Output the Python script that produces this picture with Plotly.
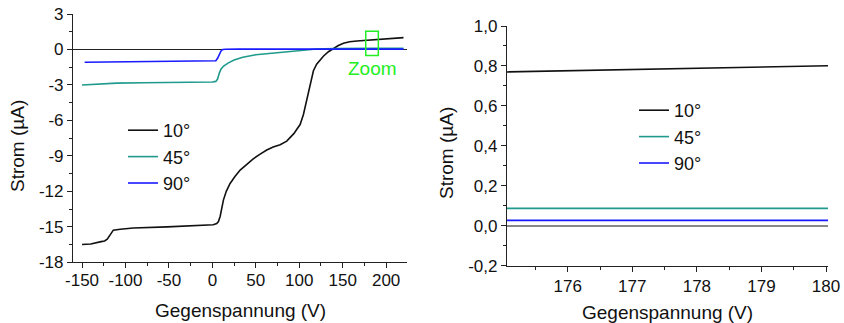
import plotly.graph_objects as go

# ---- data: left panel (full sweep) ----
v10 = [-150, -140, -128, -124, -121, -117, -114, -106, -91, -52, -14, 1, 5, 7, 9, 10.5, 12.7, 16, 20.4, 26, 32, 40, 47, 55, 62.6, 70, 78, 85.6, 90, 94, 97.2, 101, 104.8, 107.5, 110.5, 113.5, 116.3, 120, 124, 128, 133.6, 139.4, 145, 150.9, 158, 166.3, 176, 190, 205, 220]
i10 = [-16.5, -16.45, -16.25, -16.2, -16.05, -15.6, -15.28, -15.2, -15.1, -15.0, -14.9, -14.82, -14.72, -14.55, -14.1, -13.5, -12.74, -12.0, -11.33, -10.75, -10.2, -9.7, -9.25, -8.85, -8.5, -8.25, -8.05, -7.75, -7.45, -7.1, -6.75, -6.35, -5.5, -4.6, -3.5, -2.5, -1.8, -1.25, -0.9, -0.55, -0.19, 0.09, 0.33, 0.52, 0.65, 0.72, 0.78, 0.86, 0.94, 1.0]

v45 = [-150, -135, -125, -110, -80, -50, -20, 0, 4, 6, 8, 10, 13, 18, 25, 35, 50, 70, 90, 105, 120, 140, 180, 220]
i45 = [-3.0, -2.95, -2.9, -2.85, -2.82, -2.8, -2.77, -2.75, -2.7, -2.5, -2.0, -1.65, -1.4, -1.15, -0.9, -0.65, -0.45, -0.33, -0.2, -0.07, 0.04, 0.08, 0.09, 0.1]

v90 = [-147, -100, -50, 0, 4, 6, 8, 10, 12, 15, 30, 100, 220]
i90 = [-1.08, -1.05, -1.02, -0.98, -0.95, -0.75, -0.4, -0.12, 0.0, 0.02, 0.03, 0.03, 0.03]

# ---- data: right panel (zoom) ----
zv = [175.06, 176, 177, 178, 179, 180.03]
z10 = [0.770, 0.776, 0.782, 0.789, 0.795, 0.801]
z45 = [0.087, 0.087, 0.087, 0.087, 0.087, 0.087]
z90 = [0.027, 0.027, 0.027, 0.027, 0.027, 0.027]

labels = ["10°", "45°", "90°"]
colors = ["#111111", "#1f9a8c", "#1a1aff"]

# zoom box (data coords of left panel)
box_x = [176.5, 191.0]
box_y = [-0.5, 1.55]

# ticks
lx_vals = [-150, -100, -50, 0, 50, 100, 150, 200]
lx_text = ["-150", "-100", "-50", "0", "50", "100", "150", "200"]
ly_vals = [3, 0, -3, -6, -9, -12, -15, -18]
ly_text = ["3", "0", "-3", "-6", "-9", "-12", "-15", "-18"]
rx_vals = [176, 177, 178, 179, 180]
rx_text = ["176", "177", "178", "179", "180"]
ry_vals = [1.0, 0.8, 0.6, 0.4, 0.2, 0.0, -0.2]
ry_text = ["1,0", "0,8", "0,6", "0,4", "0,2", "0,0", "-0,2"]

FONT = "Liberation Sans, Arial, sans-serif"
W, H = 844, 323

fig = go.Figure()
for v, i, lab, c in zip([v10, v45, v90], [i10, i45, i90], labels, colors):
    fig.add_trace(go.Scatter(x=v, y=i, mode="lines", name=lab, line=dict(color=c, width=1.6),
                             xaxis="x", yaxis="y", legend="legend"))
for z, lab, c in zip([z10, z45, z90], labels, colors):
    fig.add_trace(go.Scatter(x=zv, y=z, mode="lines", name=lab, line=dict(color=c, width=1.6),
                             xaxis="x2", yaxis="y2", legend="legend2"))

fig.add_shape(type="rect", xref="x", yref="y", x0=box_x[0], x1=box_x[1], y0=box_y[0], y1=box_y[1],
              line=dict(color="#22ee22", width=1.5))
fig.add_annotation(x=(box_x[0] + box_x[1]) / 2, y=-1.65, xref="x", yref="y", text="Zoom",
                   showarrow=False, font=dict(family=FONT, size=19, color="#22ee22"))

def px(x):
    return x / W

def py(y):
    return 1 - y / H

axis_common = dict(showline=True, linecolor="#222222", linewidth=1.2, ticks="outside", ticklen=5,
                   tickwidth=1, tickcolor="#222222", showgrid=False, mirror=False, automargin=False,
                   tickfont=dict(family=FONT, size=17, color="#111111"), tickmode="array")

fig.update_layout(
    template="none",
    width=W, height=H, margin=dict(l=0, r=0, t=0, b=0, pad=0, autoexpand=False),
    paper_bgcolor="white", plot_bgcolor="white", showlegend=True,
    xaxis=dict(domain=[px(73), px(407)], range=[-160.4, 224], anchor="y", tickvals=lx_vals, ticktext=lx_text,
               zeroline=False, ticklabelstandoff=-3,
               minor=dict(ticks="outside", ticklen=3, tickcolor="#222222", tickmode="array",
                          tickvals=[-125, -75, -25, 25, 75, 125, 175, 225]), **axis_common),
    yaxis=dict(domain=[py(262.3), py(14)], range=[-18, 3], anchor="x", tickvals=ly_vals, ticktext=ly_text,
               zeroline=True, zerolinecolor="#222222", zerolinewidth=1,
               minor=dict(ticks="outside", ticklen=3, tickcolor="#222222", tickmode="array",
                          tickvals=[1.5, -1.5, -4.5, -7.5, -10.5, -13.5, -16.5]), **axis_common),
    xaxis2=dict(domain=[px(507), px(828)], range=[175.06, 180.03], anchor="y2", tickvals=rx_vals, ticktext=rx_text,
                zeroline=False,
                minor=dict(ticks="outside", ticklen=3, tickcolor="#222222", tickmode="array",
                           tickvals=[175.5, 176.5, 177.5, 178.5, 179.5]), **axis_common),
    yaxis2=dict(domain=[py(265.7), py(26)], range=[-0.2, 1.0], anchor="x2", tickvals=ry_vals, ticktext=ry_text,
                zeroline=True, zerolinecolor="#888888", zerolinewidth=2,
                minor=dict(ticks="outside", ticklen=3, tickcolor="#222222", tickmode="array",
                           tickvals=[0.9, 0.7, 0.5, 0.3, 0.1, -0.1]), **axis_common),
    legend=dict(x=px(123), y=py(112), xanchor="left", yanchor="top", bgcolor="rgba(0,0,0,0)",
                font=dict(family=FONT, size=18, color="#111111"), tracegroupgap=0, itemwidth=30),
    legend2=dict(x=px(634), y=py(92), xanchor="left", yanchor="top", bgcolor="rgba(0,0,0,0)",
                 font=dict(family=FONT, size=18, color="#111111"), tracegroupgap=0, itemwidth=30),
)

title_font = dict(family=FONT, size=19, color="#111111")
fig.add_annotation(x=px(240), y=py(310), xref="paper", yref="paper", text="Gegenspannung (V)",
                   xanchor="center", yanchor="middle", showarrow=False, font=title_font)
fig.add_annotation(x=px(667), y=py(312), xref="paper", yref="paper", text="Gegenspannung (V)",
                   xanchor="center", yanchor="middle", showarrow=False, font=title_font)
fig.add_annotation(x=px(17), y=py(146), xref="paper", yref="paper", text="Strom (µA)", textangle=-90,
                   xanchor="center", yanchor="middle", showarrow=False, font=title_font)
fig.add_annotation(x=px(447), y=py(153), xref="paper", yref="paper", text="Strom (µA)", textangle=-90,
                   xanchor="center", yanchor="middle", showarrow=False, font=title_font)

fig.write_html("out.html")
